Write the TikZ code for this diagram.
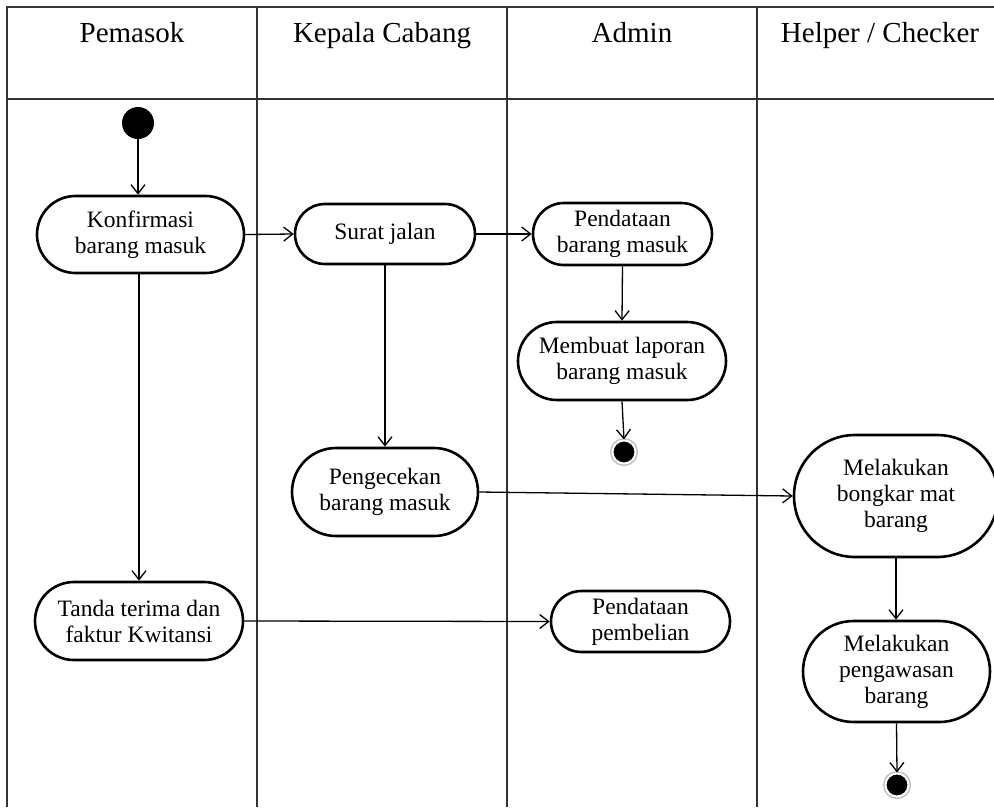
\documentclass[tikz,border=0pt]{standalone}
\usepackage{fontspec}
\setmainfont{Liberation Serif}
\usetikzlibrary{shapes.misc,arrows.meta}
\tikzset{
  grid/.style={draw=black!80, line width=1.6pt},
  act/.style={rounded rectangle, draw=black, line width=2.6pt, inner sep=2pt, align=center,
     font=\fontsize{23.5}{26}\selectfont},
  head/.style={anchor=base, font=\fontsize{29}{32}\selectfont},
  flow/.style={line width=1.3pt, -{Straight Barb[length=9pt,width=14pt,line width=1.3pt]}},
  startdot/.style={circle, fill=black, minimum size=32pt, inner sep=0pt},
  enddot/.style={circle, fill=black, minimum size=23pt, inner sep=0pt, draw=white, line width=2pt,
     preaction={draw=black!25, line width=5pt}},
}
\begin{document}
\begin{tikzpicture}[x=1pt,y=-1pt]
\useasboundingbox (0,0) rectangle (994,807);
% swimlane table
\draw[grid] (994,7) -- (7,7) -- (7,807);
\draw[grid] (7,99) -- (994,99);
\draw[grid] (257,7) -- (257,807);
\draw[grid] (507,7) -- (507,807);
\draw[grid] (757,7) -- (757,807);
% headers
\node[head] (h1) at (132,42) {Pemasok};
\node[head] (h2) at (382,42) {Kepala Cabang};
\node[head] (h3) at (632,42) {Admin};
\node[head] (h4) at (880,42) {Helper / Checker};
% nodes
\node[startdot] (start) at (138,123) {};
\node[act, minimum width=211pt, minimum height=77pt] (konf) at (140.5,234.5) {Konfirmasi\\barang masuk};
\node[act, minimum width=184pt, minimum height=60pt] (surat) at (385,234) {Surat jalan};
\node[act, minimum width=183pt, minimum height=62pt] (pend) at (622.5,234) {Pendataan\\barang masuk};
\node[act, minimum width=212pt, minimum height=78pt] (lap) at (622,361) {Membuat laporan\\barang masuk};
\node[enddot] (end1) at (624,452) {};
\node[act, minimum width=190pt, minimum height=88pt] (cek) at (385,492) {Pengecekan\\barang masuk};
\node[act, minimum width=208pt, minimum height=122pt] (bongkar) at (896,496) {Melakukan\\bongkar mat\\barang};
\node[act, minimum width=212pt, minimum height=78pt] (tanda) at (139,621) {Tanda terima dan\\faktur Kwitansi};
\node[act, minimum width=183pt, minimum height=61pt] (pemb) at (640.5,621.5) {Pendataan\\pembelian};
\node[act, minimum width=191pt, minimum height=101pt] (awas) at (896.5,671.5) {Melakukan\\pengawasan\\barang};
\node[enddot] (end2) at (897,785) {};
% connectors
\draw[flow] (start.south) -- (start.south |- konf.north);
\draw[flow] (konf.east) -- (surat.west);
\draw[flow] (surat.east) -- (pend.west);
\draw[flow] (pend.south) -- (lap.north);
\draw[flow] (lap.south) -- (end1.north);
\draw[flow] (surat.south) -- (cek.north);
\draw[flow] (cek.east) -- (bongkar.west);
\draw[flow] (konf.south -| tanda.north) -- (tanda.north);
\draw[flow] (tanda.east) -- (pemb.west);
\draw[flow] (bongkar.south) -- (awas.north -| bongkar.south);
\draw[flow] (awas.south) -- (end2.north);
\end{tikzpicture}
\end{document}
